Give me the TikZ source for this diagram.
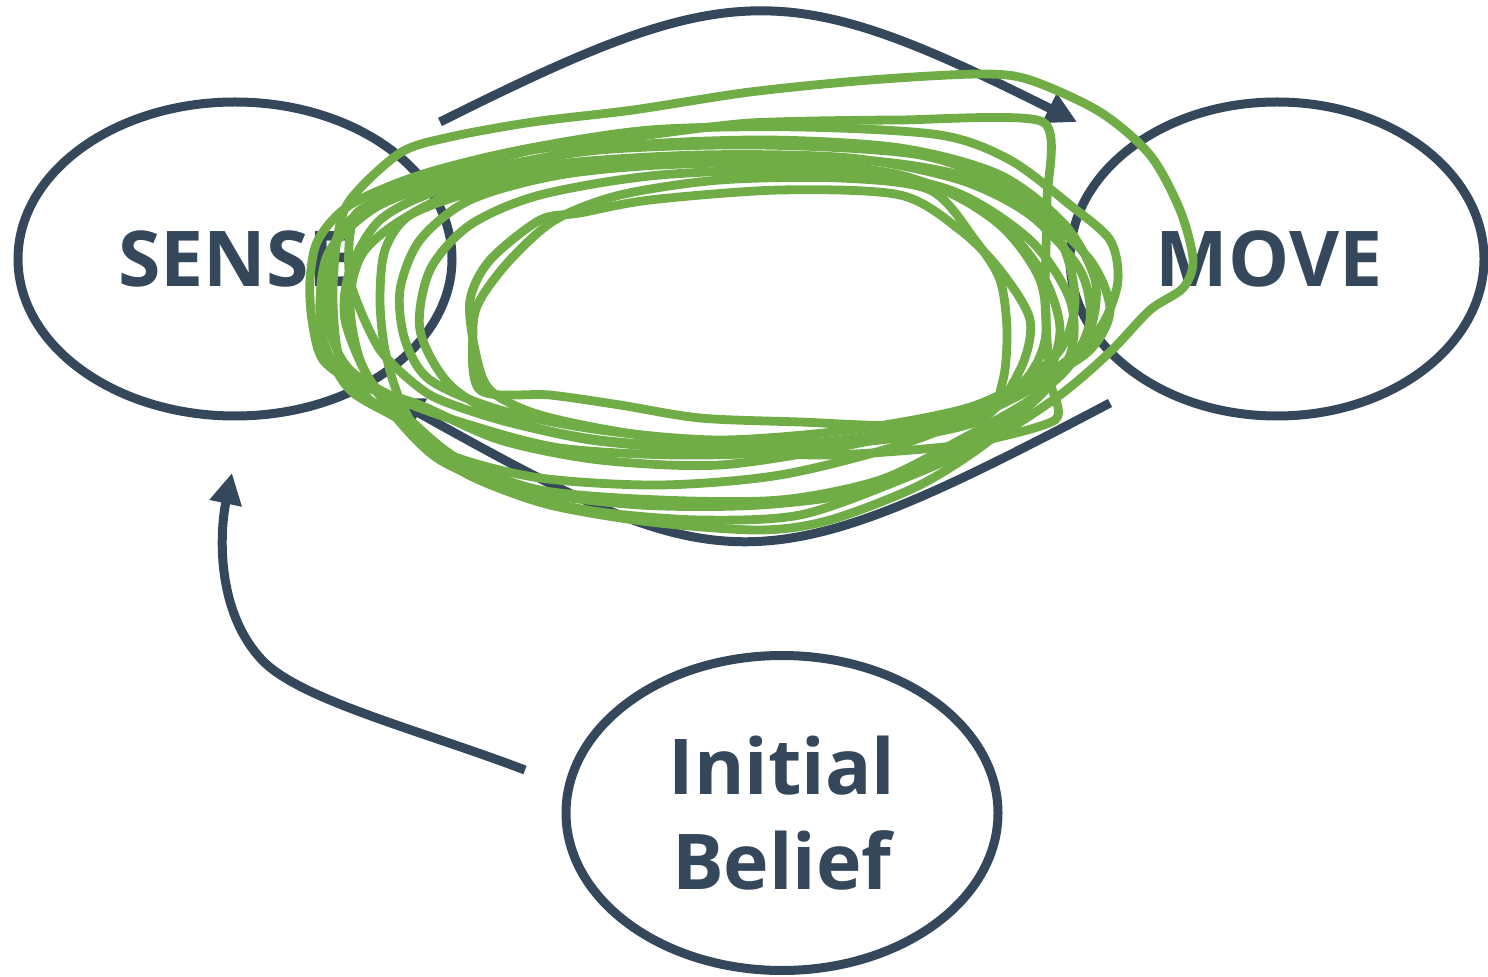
\documentclass[tikz,border=0pt]{standalone}
\usepackage{fontspec}
\setmainfont{Open Sans}
\usetikzlibrary{arrows.meta,shapes.geometric}
\definecolor{slate}{HTML}{34475B}
\definecolor{ink}{HTML}{70AD47}
\begin{document}
\begin{tikzpicture}[x=0.5pt,y=-0.5pt,
  state/.style={ellipse, draw=slate, line width=4.5pt, inner sep=0pt,
    text=slate, align=center,
    font=\fontsize{38.5}{47.5}\selectfont\bfseries},
  flow/.style={draw=slate, line width=4.5pt,
    -{Triangle[length=15.5pt,width=15.5pt]}},
  scrib/.style={draw=ink, line width=4.4pt, line join=round, line cap=round}]
\useasboundingbox (0,0) rectangle (1488,977);

% states
\node[state, minimum width=217pt, minimum height=157pt] (sense) at (235,259) {SENSE};
\node[state, minimum width=207pt, minimum height=157pt] (move) at (1277,259) {\hspace*{-8pt}MOVE};
\node[state, minimum width=216pt, minimum height=157.5pt] (belief) at (782,813) {Initial\\Belief};

% transitions
\coordinate (t0) at (440,122);
\coordinate (t1) at (1077,122);
\draw[flow] (t0) .. controls (732,-24) and (785,-24) .. (t1);

\coordinate (b0) at (1110,403);
\coordinate (b1) at (392,398);
\draw[flow] (b0) .. controls (757,589) and (725,584) .. (b1);

\coordinate (i0) at (525,770);
\coordinate (i1) at (232,473);
\draw[flow] (i0) .. controls (420,730) and (300,700) .. (262,660)
  .. controls (215,610) and (220,530) .. (i1);

% scribbled loops over the transition cycle
\draw[scrib] plot[smooth cycle, tension=0.5] coordinates {(333,300) (337,240) (350,200) (400,153) (450,137) (533,122) (633,110) (750,92) (870,80) (980,74) (1030,80) (1100,112) (1150,155) (1180,210) (1193,260) (1183,288) (1150,310) (1110,352) (1060,395) (990,440) (900,480) (800,515) (700,520) (600,512) (520,495) (460,470) (420,430) (370,400) (340,360)};
\draw[scrib] plot[smooth cycle, tension=0.4] coordinates {(355,215) (410,187) (467,167) (533,150) (633,137) (750,123) (900,120) (1043,122) (1047,200) (1045,300) (1050,380) (1055,420) (960,445) (830,455) (700,450) (590,440) (500,420) (430,395) (380,350) (350,280)};
\draw[scrib] plot[smooth cycle, tension=0.5] coordinates {(310,280) (318,240) (350,205) (420,175) (520,150) (650,130) (800,127) (940,135) (1010,160) (1070,205) (1110,240) (1118,280) (1105,320) (1080,350) (1030,385) (950,420) (850,445) (720,465) (600,460) (500,440) (420,405) (360,385) (323,360) (312,320)};
\draw[scrib] plot[smooth cycle, tension=0.5] coordinates {(320,300) (330,250) (380,205) (470,175) (600,148) (760,140) (900,148) (1000,175) (1065,225) (1095,280) (1090,330) (1060,370) (1000,405) (900,445) (780,475) (660,485) (540,478) (450,455) (400,420) (350,390) (325,345)};
\draw[scrib] plot[smooth cycle, tension=0.5] coordinates {(345,320) (350,270) (380,220) (440,190) (550,165) (700,155) (850,158) (960,180) (1030,215) (1080,270) (1090,320) (1070,365) (1030,400) (960,440) (880,480) (780,500) (660,500) (540,490) (460,460) (410,420) (370,380)};
\draw[scrib] plot[smooth cycle, tension=0.5] coordinates {(380,300) (385,250) (410,215) (480,185) (600,165) (760,160) (900,175) (990,215) (1040,270) (1060,330) (1040,390) (990,440) (920,485) (830,520) (760,530) (650,522) (550,505) (480,480) (430,450) (400,400) (385,350)};
\draw[scrib] plot[smooth cycle, tension=0.5] coordinates {(480,390) (473,330) (480,300) (510,260) (555,220) (620,195) (720,180) (840,178) (930,190) (975,240) (1000,280) (1007,330) (1003,380) (985,410) (900,425) (800,422) (700,418) (620,405) (550,395)};
\draw[scrib] plot[smooth cycle, tension=0.5] coordinates {(470,300) (490,260) (540,220) (580,213) (650,200) (780,190) (900,195) (960,230) (1000,270) (1030,320) (1020,370) (980,420) (880,440) (760,445) (640,435) (540,415) (490,390) (475,350)};
\draw[scrib] plot[smooth cycle, tension=0.5] coordinates {(400,290) (420,240) (470,200) (560,175) (700,160) (860,160) (960,175) (1030,205) (1090,260) (1110,310) (1090,350) (1040,380) (960,410) (850,430) (720,440) (600,430) (500,410) (430,380) (405,340)};
\draw[scrib] plot[smooth cycle, tension=0.5] coordinates {(330,330) (328,270) (345,225) (400,190) (480,170) (600,150) (760,145) (920,155) (1010,190) (1060,240) (1075,300) (1060,350) (1010,390) (920,425) (800,450) (680,455) (560,448) (470,425) (400,400) (350,370)};
\draw[scrib] plot[smooth cycle, tension=0.5] coordinates {(420,330) (430,270) (470,225) (540,195) (660,175) (820,170) (930,185) (1000,225) (1040,280) (1045,340) (1020,385) (950,420) (840,440) (720,447) (600,440) (510,420) (450,385)};
\draw[scrib] plot[smooth cycle, tension=0.5] coordinates {(360,360) (350,300) (365,250) (420,210) (520,180) (660,165) (820,165) (950,190) (1030,240) (1070,300) (1070,355) (1030,405) (960,450) (870,490) (760,505) (640,505) (520,490) (440,460) (390,410)};
\end{tikzpicture}
\end{document}
